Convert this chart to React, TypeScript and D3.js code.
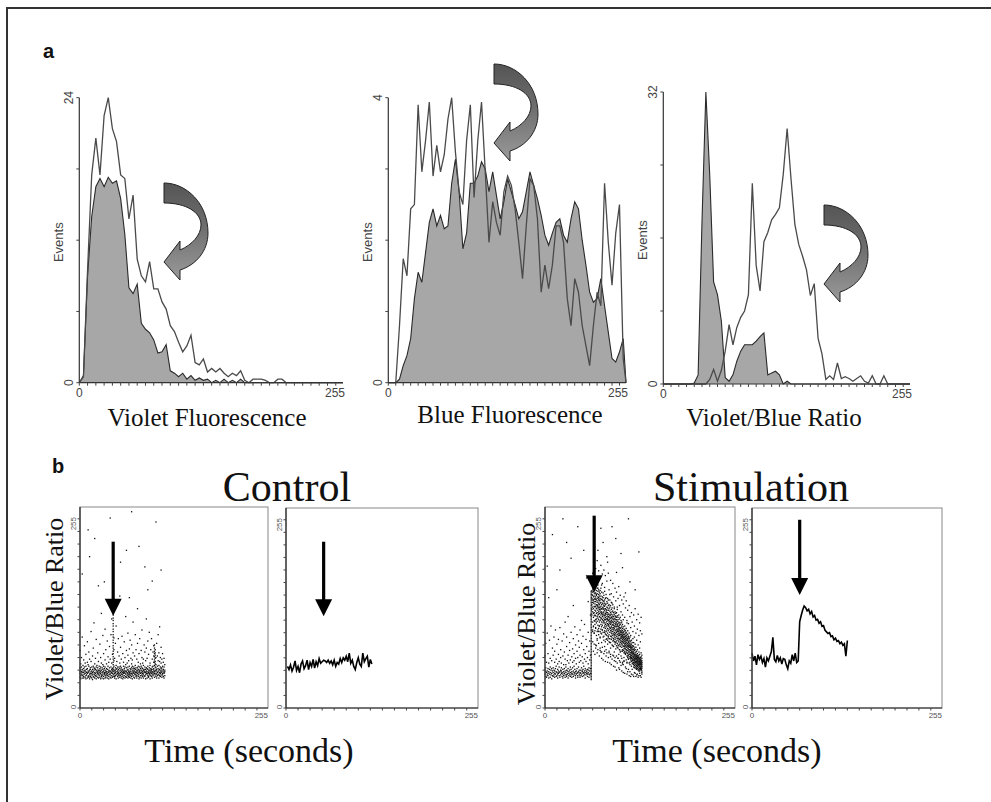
import React from "react";
import * as d3 from "d3";

// ---------- panel a: histograms (value every 4th channel, closed at 255) ----------
const channels = [...d3.range(0, 256, 4), 255];

const violetShaded = [
  0, 0.6, 9, 14, 16.5, 17.2, 16.5, 17.3,
  16.8, 17, 15.5, 12.5, 8, 7.5, 8.3, 5,
  4.5, 4.2, 3.6, 2.5, 2.6, 3.2, 1, 0.8,
  0.5, 0.8, 0.3, 0.6, 0.2, 0.4, 0.2, 0.3,
  0, 0.2, 0, 0.3, 0, 0.2, 0, 0.3,
  0, 0, 0, 0, 0, 0, 0, 0,
  0, 0, 0, 0, 0, 0, 0, 0,
  0, 0, 0, 0, 0, 0, 0, 0,
  0,
];
const violetOpen = [
  0, 0.5, 9.5, 17.5, 20.6, 17.5, 22.5, 24,
  21.4, 20.3, 17.5, 17.2, 13.8, 15.8, 10.4, 9,
  8.5, 10.2, 7.9, 7.9, 6.8, 6.2, 4.8, 4.3,
  3.4, 2.6, 3.1, 4, 1.7, 1.5, 2, 0.9,
  1.2, 0.9, 1.2, 0.8, 0.5, 0.8, 0.6, 1,
  0.2, 0, 0.3, 0.3, 0.3, 0.2, 0, 0,
  0.3, 0.3, 0, 0, 0, 0, 0, 0,
  0, 0, 0, 0, 0, 0, 0, 0,
  0,
];
const blueShaded = [
  0, 0, 0, 0.05, 0.24, 0.38, 0.62, 1.18,
  1.55, 1.41, 1.83, 2.25, 2.44, 2.2, 2.35, 2.16,
  2.2, 2.8, 3.14, 2.68, 1.88, 2.1, 2.8, 2.8,
  2.9, 3.1, 3, 2.68, 2.96, 2.63, 2.3, 2.54,
  2.86, 2.68, 2.5, 2.3, 2.4, 2.68, 2.96, 2.77,
  2.58, 2.35, 2.07, 1.93, 2.1, 2.25, 2.3, 2.07,
  1.97, 2.3, 2.54, 2.44, 2, 1.65, 1.27, 1.13,
  1.18, 1.46, 1.08, 0.71, 0.34, 0.29, 0.43, 0.62,
  0,
];
const blueOpen = [
  0, 0, 0, 0.8, 1.74, 1.5, 2.44, 2.5,
  3.9, 2.96, 3.4, 3.94, 2.9, 3.33, 2.96, 3.2,
  3.7, 4, 3.24, 2.68, 2.5, 3.4, 3.9, 2.6,
  3.4, 3.94, 2.96, 1.97, 2.54, 2.25, 2.07, 2.68,
  2.9, 2.77, 2.44, 1.97, 1.46, 2.2, 2.86, 2.77,
  2.3, 1.27, 1.65, 1.32, 1.65, 2.2, 2.2, 1.97,
  1.18, 0.8, 1.46, 1.27, 0.8, 0.52, 0.24, 0.8,
  1.27, 1.08, 2.8, 1.97, 1.37, 2.1, 2.5, 0.34,
  0,
];
const ratioShaded = [
  0, 0, 0, 0, 0, 0, 0, 0,
  0.1, 1, 17.8, 32, 22.9, 11.2, 9.8, 6.9,
  0.7, 0.3, 1, 2.5, 3.6, 4.3, 4.3, 4.3,
  4.7, 5.2, 5.6, 1, 1.2, 1.4, 1, 0,
  0.3, 0, 0, 0, 0, 0, 0, 0,
  0, 0, 0, 0, 0, 0, 0, 0,
  0, 0, 0, 0, 0, 0, 0, 0,
  0, 0, 0, 0, 0, 0, 0, 0,
  0,
];
const ratioOpen = [
  0, 0, 0, 0, 0, 0, 0, 0,
  0, 0, 0, 0, 0.5, 1.6, 0.3, 1.5,
  3.6, 6.5, 4.3, 6.2, 7.3, 8, 9.8, 22,
  13, 10.2, 15.6, 16.6, 18, 18.6, 19.3, 23,
  28, 22.5, 17.5, 15.3, 14, 12.5, 9.7, 11,
  5, 3.3, 0.5, 0.9, 0.5, 2.3, 0.6, 0.8,
  0.6, 0.3, 0.6, 0.9, 0.3, 0.1, 0.9, 0,
  0, 0.9, 0, 0, 0, 0, 0, 0,
  0,
];
const histMax = [24, 4, 32];
const histTitles = ["Violet Fluorescence", "Blue Fluorescence", "Violet/Blue Ratio"];

// ---------- panel b: time courses ----------
const controlTime = d3.range(2, 115, 2);
const controlMedian = [
  53, 49, 55, 47, 52, 60, 48, 53, 45, 56, 60, 50, 54, 61, 49, 58, 53, 62, 51, 59,
  54, 63, 57, 59, 61, 60, 58, 61, 57, 60, 55, 61, 53, 58, 56, 63, 58, 64, 61, 66,
  59, 70, 57, 61, 53, 49, 58, 64, 56, 53, 70, 59, 63, 66, 52, 62, 56,
];
const stimTime = d3.range(0, 129, 2);
const stimMedian = [
  70, 60, 66, 55, 68, 62, 66, 58, 63, 52, 64, 60, 66, 72, 90, 62, 59, 67, 60, 64,
  56, 63, 62, 55, 50, 60, 57, 68, 60, 70, 58, 60,
  110, 118, 125, 130, 128, 124, 126, 120, 123, 116, 118, 112, 113, 108, 110, 104, 105,
  99, 97, 95, 96, 91, 92, 87, 89, 85, 86, 82, 84, 80, 82, 66, 86,
];

// events per time channel (index = time channel), ratio values 0-255
const controlCols = [
  "44 39 51 47 73", "41 48 37 56", "46 43 52 64", "38 49 45 41 90 170", "47 42 54", "40 45 50 38 61",
  "43 52 47 79", "39 44 48 57", "46 41 53 37 68", "42 49 45", "50 38 44 58 84", "45 40 47 226 55",
  "41 53 46 39 71", "48 43 37 192 62", "44 51 40 49", "39 46 42 59 97", "47 52 44 38", "42 36 49 45 66",
  "46 40 53 76", "43 48 39 51 108", "38 45 50 42 56 215", "49 44 41 63", "40 47 52 37 87", "45 42 48 54",
  "51 39 44 46 70", "43 48 38 155 59", "47 41 53 45", "39 50 43 48 81", "44 37 46 52 64", "48 42 40 120 57",
  "41 51 45 38", "46 43 49 55 92", "40 47 37 53 69", "45 42 50 44 160", "38 48 43 52 100 61", "47 41 45 39 74",
  "43 50 46 56", "49 38 44 41 85", "42 46 53 134 65", "45 40 48 37 58", "51 43 47 78", "39 46 42 241 62",
  "47 44 52 38 93", "41 49 45 113 57", "44 39 50 47 68",
  "43 47 51 55 58 62 65 69 72 76 79 83 86 90 93 97 100 104 107 111 114 118 121 40 49",
  "46 42 53 60 74 89", "40 48 44 38 63", "45 51 41 47 82", "49 43 37 54 104", "42 46 50 59", "47 40 44 52 71",
  "38 45 49 42 88", "44 52 41 47 66", "50 43 39 142 57", "41 48 45 53 77 185", "46 38 51 43 62", "43 49 40 47 91",
  "48 42 45 37 69", "39 46 53 44 58", "45 41 50 48 84", "52 44 38 46 64", "40 47 43 55 116", "46 51 39 200 73",
  "43 45 48 41 57", "49 38 44 52 95 67", "42 47 40 46 60", "45 53 43 39 75 140", "50 41 47 44 86", "38 46 49 42 63",
  "44 51 40 249 56 80", "47 43 37 53 61", "41 48 45 50 109 70", "46 39 44 52", "43 50 47 38 66", "49 42 45 54 93",
  "40 46 51 43 74", "45 38 48 41 62", "51 44 47 126 82", "42 49 40 53 58", "47 43 37 45 69 205", "39 46 52 48 88",
  "44 41 50 56", "48 45 38 53 73", "41 47 43 51 99 64", "46 50 40 44 57", "43 38 48 54 62", "49 45 41 47 80",
  "40 52 46 179 71", "45 42 49 37 60", "51 44 47 113 76", "38 46 43 50 63", "44 49 41 53 85 150", "47 40 45 39 68",
  "42 51 48 44 96", "46 43 37 54 57", "41 48 50 45 74", "49 44 40 47 88", "43 52 46 38 161 62", "45 41 49 53 71",
  "50 47 43 58 66 79", "39 46 54 58 61 65 69 72 76 80 44", "48 42 52 56 59 63 67 70 74 47", "44 51 40 64 236 55",
  "47 43 49 38 82", "41 45 53 66", "46 50 42 93 60", "43 38 48 54 70", "49 45 41 103 59", "40 47 52 44 64",
  "45 42 50 57 77 175", "51 46 39 48 62", "42 44 53 69", "47 40 49 58", "44 52 45 38 63", "48 41 46 55",
];
const stimCols = [
  "43 48 66", "40 46 51 82", "45 39 58", "47 42 95 180", "41 50 44 69", "46 38 57 140", "43 49 86", "39 45 52 63",
  "48 42 104", "44 37 50 60", "41 47 76 220", "45 51 40 67", "42 48 90", "47 39 44 58 72", "43 50 99", "40 46 53 62",
  "45 41 81 150", "49 43 38 56", "44 47 68 87", "41 52 45 59", "46 39 102 175", "42 48 74 64", "47 44 51 57", "40 45 85",
  "43 49 38 66 240", "46 41 55 94", "50 44 71", "39 47 42 62 109", "45 52 55", "42 48 40 78 90 210", "47 43 60", "44 38 50 67 116",
  "41 46 57", "48 43 83 73", "45 40 52 61", "42 49 96 190", "46 39 44 65", "43 51 75 58", "40 47 88 130", "45 42 53 60 69",
  "49 44 103", "41 46 38 63 80", "47 43 56", "44 50 72 93", "39 45 41 64 230", "46 52 85", "43 48 58 77", "41 45 39 67 99",
  "48 44 60", "42 51 82 111", "46 40 47 65", "44 49 57 91", "41 45 53 74 200", "47 43 62 106", "45 38 50 69", "42 48 59 87",
  "46 44 78 165", "40 49 43 64", "48 45 56 96 135", "43 39 51 72", "47 42 61 85", "44 50 67 118",
  "36 38 40 42 44 46 48 50 52 54 56 58 60 62 64 66 68 70 72 74 76 78 80 82 84 86 88 90 92 94 96 98 100 102 104 106 108 110 112 114 116 118 120 122 124 126 128 130 132 134 136 138 140 142 144 146 148",
  "131 144 118 156 139 125 162 149",
  "122 151 137 109 143 128 160 99 134 147 84 171 97",
  "141 115 133 158 126 104 148 137 120 170 72 158 103",
  "129 146 111 138 153 121 95 135 142 117 95 183 81 205",
  "150 124 139 106 132 161 145 118 128 98 68 166 110",
  "135 117 146 129 102 141 155 123 112 138 80 101 177 76",
  "126 143 113 137 149 120 131 166 108 144 79 159 92",
  "139 121 152 110 134 127 145 97 130 116 86 88 187 70",
  "118 141 131 105 148 124 136 156 114 129 200 74 152 99",
  "144 112 127 138 101 133 122 150 119 93 140 97 174 82",
  "125 136 109 147 116 131 142 120 104 128 66 163 104",
  "111 139 123 133 97 145 115 127 137 89 76 90 149 73",
  "134 118 142 106 129 121 152 113 125 100 71 181 95 228",
  "120 131 103 138 114 126 147 109 122 94 71 83 156 63",
  "137 112 127 99 141 119 133 105 158 116 99 170 77",
  "108 132 117 125 140 96 121 111 136 128 210 61 146 90",
  "126 114 135 102 119 143 110 130 91 122 86 175 69",
  "117 129 104 137 112 124 98 133 108 148 78 72 153 96",
  "131 106 120 115 139 101 126 112 94 118 59 168 84",
  "103 125 113 132 97 119 140 108 122 87 74 93 144 66",
  "121 110 128 99 116 135 105 124 92 113 70 161 88 192",
  "112 127 101 118 133 107 95 121 114 86 185 81 139 58",
  "124 104 116 130 98 111 137 90 119 106 64 171 91",
  "100 119 109 126 93 115 131 104 84 112 70 88 150 72",
  "117 107 123 96 113 128 102 144 88 110 57 137 83",
  "106 121 98 114 130 91 109 118 101 83 68 76 162 65",
  "115 95 111 125 103 119 87 108 134 99 91 145 55",
  "97 113 105 122 89 116 102 127 94 110 230 62 133 80",
  "109 92 118 100 114 85 106 123 97 131 79 158 67",
  "102 116 94 108 121 88 112 99 78 105 66 53 141 86",
  "113 96 104 119 90 110 84 101 126 93 71 128 60",
  "95 107 117 87 103 114 92 99 81 122 64 84 152 52",
  "106 89 112 98 120 94 104 83 109 116 59 136 75 215",
  "91 103 96 115 85 108 100 79 112 121 172 48 147 66",
  "99 110 88 104 93 117 82 106 97 128 77 125 57",
  "86 101 112 94 107 90 98 76 115 104 63 63 139 80",
  "103 92 97 109 84 100 118 88 95 79 51 154 68",
  "94 87 105 99 113 81 92 102 74 108 60 74 130 49",
  "89 101 93 83 106 96 115 78 98 86 58 143 71",
  "97 84 91 108 80 102 88 94 72 111 196 66 122 54",
  "85 99 93 77 104 89 96 82 109 91 47 137 63",
  "92 80 87 101 95 74 106 84 90 98 58 72 118 56 178",
  "83 96 90 78 88 103 73 93 85 112 55 132 45",
  "91 79 86 97 82 100 75 89 94 70 60 64 141 59",
  "78 93 84 99 87 72 81 104 90 76 44 115 70",
  "88 75 95 82 91 69 85 98 79 146 68 127 52",
  "80 92 77 86 71 96 83 89 74 101 50 136 61",
  "85 73 90 78 66 87 81 94 70 108 57 58 111 43",
  "76 88 82 69 93 79 73 86 64 98 46 124 66",
  "83 71 78 89 67 84 75 91 62 80 62 107 49 240",
  "72 86 79 65 81 74 95 68 77 88 41 130 57",
  "79 68 84 74 63 77 90 70 58 82 160 55 116 46",
  "70 80 65 76 85 61 73 67 92 78 64 102 40",
  "75 63 72 81 67 70 59 77 86 64 43 121 53",
  "66 77 71 60 74 83 63 69 56 79 49 109 61",
  "72 62 68 79 57 65 75 60 88 70 57 97 42",
  "64 74 58 69 61 78 66 55 71 83 40 118 52",
  "68 57 63 73 60 66 54 76 62 90 51 104 45",
  "61 70 56 65 59 74 52 67 63 81 44 126 58 150",
  "66 55 62 71 58 53 64 68 50 77 59 95 40",
  "59 67 54 63 57 72 51 61 65 86 42 112 49",
  "64 53 60 56 69 50 62 58 66 74 53 100 43",
  "57 65 52 61 55 48 67 59 63 80 39 119 55",
  "62 51 58 66 54 60 49 56 64 71 47 92 41 198",
  "55 63 50 59 53 68 57 47 61 76 56 108 44",
  "60 52 57 64 49 55 62 51 58 84 41 98 50",
  "54 61 48 56 59 52 65 50 57 70 49 115 39",
  "58 50 55 63 47 53 60 57 45 67 43 94 52",
];

// stimulus arrows: time channel, start and tip on the ratio axis
const arrowTime = [45, 50, 66, 64];
const arrowFrom = [211, 212, 244, 240];
const arrowTo = [117, 117, 147, 144];

const serif = '"Liberation Serif", "Times New Roman", serif';
const sans = '"Liberation Sans", Arial, sans-serif';

type Frame = { x0: number; x1: number; y0: number; y1: number };

const histFrames: Frame[] = [
  { x0: 79.3, x1: 343, y0: 382.7, y1: 97.7 },
  { x0: 388.3, x1: 626, y0: 382.7, y1: 97.7 },
  { x0: 663.3, x1: 910, y0: 384, y1: 92 },
];
const histTitlePos = [
  [207, 426],
  [510, 423],
  [774, 426],
];

function Histogram({ f, max, shaded, open, title, tx, ty }: any) {
  const x = d3.scaleLinear().domain([0, 255]).range([f.x0, f.x1]);
  const y = d3.scaleLinear().domain([0, max]).range([f.y0, f.y1]);
  const area = d3
    .area<number>()
    .x((_, i) => x(channels[i]))
    .y0(y(0))
    .y1((d) => y(d));
  const line = d3
    .line<number>()
    .x((_, i) => x(channels[i]))
    .y((d) => y(d));
  const xTicks = d3.range(0, 256, 8);
  return (
    <g>
      <path d={area(shaded) || ""} fill="#a7a7a7" />
      <path d={line(shaded) || ""} fill="none" stroke="#2a2a2a" strokeWidth={1.1} />
      <path d={line(open) || ""} fill="none" stroke="#4a4a4a" strokeWidth={1.3} />
      <line x1={f.x0} x2={f.x0} y1={f.y0} y2={f.y1} stroke="#333" strokeWidth={1.2} />
      <line x1={f.x0} x2={f.x1} y1={f.y0} y2={f.y0} stroke="#333" strokeWidth={1.2} />
      {[0, max / 4, max / 2, (3 * max) / 4, max].map((t) => (
        <line key={"y" + t} x1={f.x0 - 3} x2={f.x0} y1={y(t)} y2={y(t)} stroke="#444" />
      ))}
      {xTicks.map((t) => (
        <line key={"x" + t} x1={x(t)} x2={x(t)} y1={f.y0} y2={f.y0 + 3} stroke="#444" />
      ))}
      <text transform={`translate(${f.x0 - 6},${y(max)}) rotate(-90)`} textAnchor="middle" fontFamily={sans} fontSize={12} fill="#444">
        {max}
      </text>
      <text transform={`translate(${f.x0 - 6},${y(0)}) rotate(-90)`} textAnchor="middle" fontFamily={sans} fontSize={12} fill="#444">
        0
      </text>
      <text transform={`translate(${f.x0 - 16},${(f.y0 + f.y1) / 2 + 2}) rotate(-90)`} textAnchor="middle" fontFamily={sans} fontSize={13} fill="#444">
        Events
      </text>
      <text x={f.x0} y={f.y0 + 14} textAnchor="middle" fontFamily={sans} fontSize={12} fill="#444">
        0
      </text>
      <text x={f.x1 + 2} y={f.y0 + 14} textAnchor="end" fontFamily={sans} fontSize={12} fill="#444">
        255
      </text>
      <text x={tx} y={ty} textAnchor="middle" fontFamily={serif} fontSize={25} fill="#111">
        {title}
      </text>
    </g>
  );
}

function CurvedArrow({ x, y, id }: { x: number; y: number; id: string }) {
  return (
    <g transform={`translate(${x},${y})`}>
      <defs>
        <linearGradient id={id} x1="0" y1="0" x2="0" y2="1">
          <stop offset="0" stopColor="#555" />
          <stop offset="0.45" stopColor="#6e6e6e" />
          <stop offset="1" stopColor="#9a9a9a" />
        </linearGradient>
      </defs>
      <path
        d="M0,0 C22,0 44,20 44,50 C44,68 32,82 16,87 L16,97 L0,79 L16,58 L16,67 C28,62 37,52 37,42 C37,29 22,20 0,20 Z"
        fill={`url(#${id})`}
        stroke="#222"
        strokeWidth={1}
      />
    </g>
  );
}

const panelFrames: Frame[] = [
  { x0: 80, x1: 268, y0: 708, y1: 507 },
  { x0: 286, x1: 478, y0: 708, y1: 508 },
  { x0: 545, x1: 735, y0: 708, y1: 507 },
  { x0: 752, x1: 942, y0: 708, y1: 508 },
];

function Box({ f, children, k }: any) {
  const x = d3.scaleLinear().domain([0, 255]).range([f.x0, f.x1]);
  const y = d3.scaleLinear().domain([0, 255]).range([f.y0, f.y1]);
  const ticks = d3.range(0, 256, 16);
  const ax = arrowTime[k];
  const head = 17;
  return (
    <g>
      {children(x, y)}
      <rect x={f.x0} y={f.y1} width={f.x1 - f.x0} height={f.y0 - f.y1} fill="none" stroke="#888" strokeWidth={1} />
      <line x1={f.x0} x2={f.x0} y1={f.y0} y2={f.y1} stroke="#222" strokeWidth={1.2} />
      <line x1={f.x0} x2={f.x1} y1={f.y0} y2={f.y0} stroke="#222" strokeWidth={1.2} />
      {ticks.map((t) => (
        <g key={t}>
          <line x1={f.x0 - 2.5} x2={f.x0} y1={y(t)} y2={y(t)} stroke="#444" />
          <line x1={x(t)} x2={x(t)} y1={f.y0} y2={f.y0 + 2.5} stroke="#444" />
        </g>
      ))}
      <text transform={`translate(${f.x0 - 4},${f.y1 + 10}) rotate(-90)`} textAnchor="end" fontFamily={sans} fontSize={8} fill="#555">
        255
      </text>
      <text transform={`translate(${f.x0 - 4},${f.y0 - 1}) rotate(-90)`} textAnchor="middle" fontFamily={sans} fontSize={8} fill="#555">
        0
      </text>
      <text x={f.x0} y={f.y0 + 10} textAnchor="middle" fontFamily={sans} fontSize={8} fill="#555">
        0
      </text>
      <text x={f.x1} y={f.y0 + 10} textAnchor="end" fontFamily={sans} fontSize={8} fill="#555">
        255
      </text>
      <rect x={x(ax) - 1.6} y={y(arrowFrom[k])} width={3.2} height={y(arrowTo[k]) - y(arrowFrom[k]) - head + 1} fill="#000" />
      <path
        d={`M${x(ax) - 8.5},${y(arrowTo[k]) - head} L${x(ax) + 8.5},${y(arrowTo[k]) - head} L${x(ax)},${y(arrowTo[k])} Z`}
        fill="#000"
      />
    </g>
  );
}

function dots(cols: string[]) {
  return cols.flatMap((c, t) =>
    c
      .split(" ")
      .filter((s) => s.length)
      .map((s) => [t, +s])
  );
}

function ScatterPanel({ f, cols, k }: any) {
  const pts = dots(cols);
  return (
    <Box f={f} k={k}>
      {(x: any, y: any) => (
        <g>
          {pts.map(([t, v], i) => (
            <rect key={i} x={x(t) - 0.65} y={y(v) - 0.65} width={1.3} height={1.3} fill="#111" />
          ))}
        </g>
      )}
    </Box>
  );
}

function LinePanel({ f, time, values, k }: any) {
  return (
    <Box f={f} k={k}>
      {(x: any, y: any) => {
        const line = d3
          .line<number>()
          .x((_, i) => x(time[i]))
          .y((d) => y(d));
        return <path d={line(values) || ""} fill="none" stroke="#000" strokeWidth={1.6} />;
      }}
    </Box>
  );
}

export default function App() {
  const hist = [
    [violetShaded, violetOpen],
    [blueShaded, blueOpen],
    [ratioShaded, ratioOpen],
  ];
  return (
    <svg width={991} height={802} style={{ position: "absolute", left: 0, top: 0, background: "#fff" }}>
      <rect width={991} height={802} fill="#fff" />
      <path d="M7,802 V8 H991" fill="none" stroke="#333" strokeWidth={2} />

      <text x={43} y={58} fontFamily={sans} fontWeight="bold" fontSize={20} fill="#111">
        a
      </text>
      {hist.map(([s, o], i) => (
        <Histogram
          key={i}
          f={histFrames[i]}
          max={histMax[i]}
          shaded={s}
          open={o}
          title={histTitles[i]}
          tx={histTitlePos[i][0]}
          ty={histTitlePos[i][1]}
        />
      ))}
      <CurvedArrow x={164} y={183} id="ga1" />
      <CurvedArrow x={494} y={64} id="ga2" />
      <CurvedArrow x={824} y={205} id="ga3" />

      <text x={52} y={473} fontFamily={sans} fontWeight="bold" fontSize={20} fill="#111">
        b
      </text>
      <text x={287} y={501} textAnchor="middle" fontFamily={serif} fontSize={42} fill="#111">
        Control
      </text>
      <text x={751} y={501} textAnchor="middle" fontFamily={serif} fontSize={42} fill="#111">
        Stimulation
      </text>
      <text transform="translate(63,609) rotate(-90)" textAnchor="middle" fontFamily={serif} fontSize={26} fill="#111">
        Violet/Blue Ratio
      </text>
      <text transform="translate(535,614) rotate(-90)" textAnchor="middle" fontFamily={serif} fontSize={26} fill="#111">
        Violet/Blue Ratio
      </text>
      <text x={249} y={762} textAnchor="middle" fontFamily={serif} fontSize={34} fill="#111">
        Time (seconds)
      </text>
      <text x={717} y={762} textAnchor="middle" fontFamily={serif} fontSize={34} fill="#111">
        Time (seconds)
      </text>

      <ScatterPanel f={panelFrames[0]} cols={controlCols} k={0} />
      <LinePanel f={panelFrames[1]} time={controlTime} values={controlMedian} k={1} />
      <ScatterPanel f={panelFrames[2]} cols={stimCols} k={2} />
      <LinePanel f={panelFrames[3]} time={stimTime} values={stimMedian} k={3} />
    </svg>
  );
}
